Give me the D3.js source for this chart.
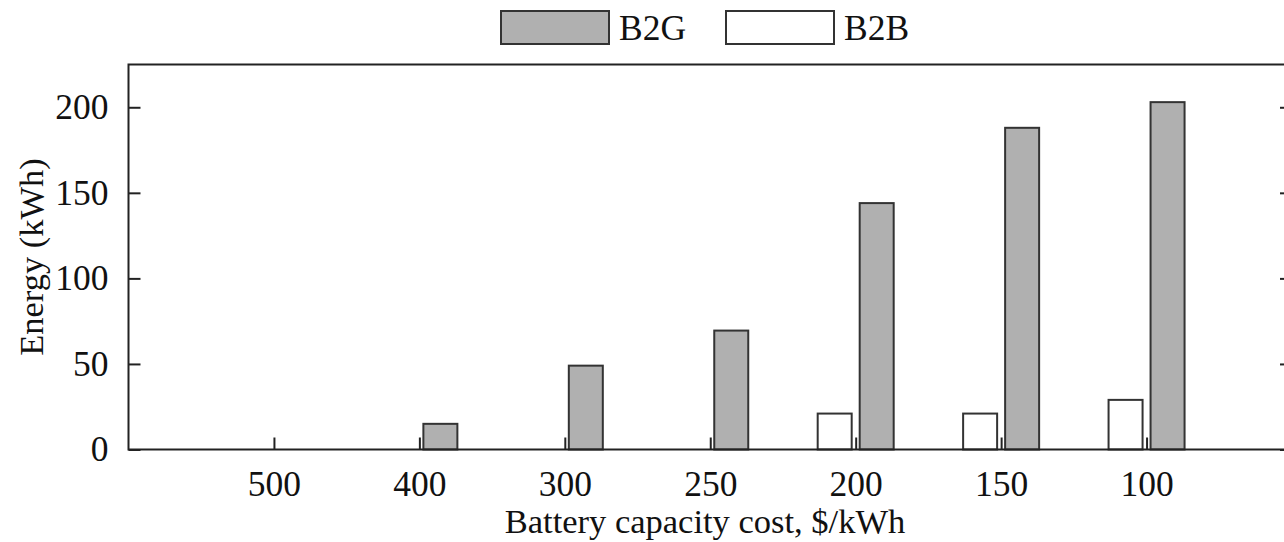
<!DOCTYPE html>
<html>
<head>
<meta charset="utf-8">
<script src="https://cdn.jsdelivr.net/npm/d3@7/dist/d3.min.js"></script>
<style>
  html, body { margin: 0; padding: 0; background: #fff; }
  svg { display: block; }
  text { font-family: "Liberation Serif", "DejaVu Serif", serif; fill: #111; }
</style>
</head>
<body>
<svg id="chart" width="1284" height="542"></svg>
<script>
// Battery capacity cost categories ($/kWh) and energy per mode (kWh)
const categories = ["500", "400", "300", "250", "200", "150", "100"];
const b2g = [0, 15, 49, 69.5, 144, 188, 203];
const b2b = [0, 0, 0, 0, 21, 21, 29];
const yTicks = [0, 50, 100, 150, 200];
const seriesNames = ["B2G", "B2B"];

const svg = d3.select("#chart");
const plot = { left: 128.5, top: 64.5, right: 1292, bottom: 449.5 };

// Categories sit at positions 1..7 on a 0..8 axis
const x = d3.scaleLinear().domain([0, categories.length + 1]).range([plot.left, plot.right]);
const y = d3.scaleLinear().domain([0, 225]).range([plot.bottom, plot.top]);

const barW = 34, gap = 4;
const gray = "#b0b0b0";
const strokeCol = "#333";

const g = svg.append("g");

// B2B bars (left of the category tick)
g.selectAll("rect.b2b").data(b2b.map((v, i) => ({ v, i })).filter(d => d.v > 0))
  .join("rect").attr("class", "b2b")
  .attr("x", d => x(d.i + 1) - gap - barW)
  .attr("y", d => y(d.v))
  .attr("width", barW)
  .attr("height", d => y(0) - y(d.v))
  .attr("fill", "#fff").attr("stroke", strokeCol).attr("stroke-width", 2);

// B2G bars (right of the category tick)
g.selectAll("rect.b2g").data(b2g.map((v, i) => ({ v, i })).filter(d => d.v > 0))
  .join("rect").attr("class", "b2g")
  .attr("x", d => x(d.i + 1) + gap)
  .attr("y", d => y(d.v))
  .attr("width", barW)
  .attr("height", d => y(0) - y(d.v))
  .attr("fill", gray).attr("stroke", strokeCol).attr("stroke-width", 2);

// Plot frame
g.append("rect")
  .attr("x", plot.left).attr("y", plot.top)
  .attr("width", plot.right - plot.left).attr("height", plot.bottom - plot.top)
  .attr("fill", "none").attr("stroke", "#222").attr("stroke-width", 2);

// Axes with inward ticks
const tickFont = 35.5;
const titleFont = 34.5;
const xAxis = d3.axisBottom(x)
  .tickValues(d3.range(1, categories.length + 1))
  .tickFormat(d => categories[d - 1])
  .tickSizeInner(-12).tickSizeOuter(0).tickPadding(21);
const xg = svg.append("g").attr("transform", `translate(0,${plot.bottom})`).call(xAxis);
xg.select(".domain").remove();
xg.selectAll(".tick line").attr("stroke", "#222").attr("stroke-width", 2);
xg.selectAll(".tick text").attr("font-size", tickFont).attr("fill", "#111")
  .attr("font-family", "Liberation Serif, serif");

const yAxis = d3.axisLeft(y).tickValues(yTicks).tickSizeInner(-12).tickSizeOuter(0).tickPadding(20);
const yg = svg.append("g").attr("transform", `translate(${plot.left},0)`).call(yAxis);
yg.select(".domain").remove();
yg.selectAll(".tick line").attr("stroke", "#222").attr("stroke-width", 2);
yg.selectAll(".tick text").attr("font-size", tickFont).attr("fill", "#111")
  .attr("font-family", "Liberation Serif, serif");

const yRight = d3.axisRight(y).tickValues(yTicks).tickSizeInner(-12).tickSizeOuter(0).tickFormat("");
const yr = svg.append("g").attr("transform", `translate(${plot.right},0)`).call(yRight);
yr.select(".domain").remove();
yr.selectAll(".tick line").attr("stroke", "#222").attr("stroke-width", 2);

// Axis titles
svg.append("text")
  .attr("x", 705).attr("y", 533)
  .attr("text-anchor", "middle").attr("font-size", titleFont)
  .text("Battery capacity cost, $/kWh");

svg.append("text")
  .attr("transform", `translate(43,${(plot.top + plot.bottom) / 2}) rotate(-90)`)
  .attr("text-anchor", "middle").attr("font-size", titleFont)
  .text("Energy (kWh)");

// Legend
const legend = svg.append("g");
const legendItems = [
  { name: seriesNames[0], fill: gray, x: 501 },
  { name: seriesNames[1], fill: "#fff", x: 726 }
];
legendItems.forEach(it => {
  legend.append("rect")
    .attr("x", it.x).attr("y", 11).attr("width", 108).attr("height", 33)
    .attr("fill", it.fill).attr("stroke", strokeCol).attr("stroke-width", 2);
  legend.append("text")
    .attr("x", it.x + 118).attr("y", 40)
    .attr("font-size", tickFont)
    .text(it.name);
});
</script>
</body>
</html>
